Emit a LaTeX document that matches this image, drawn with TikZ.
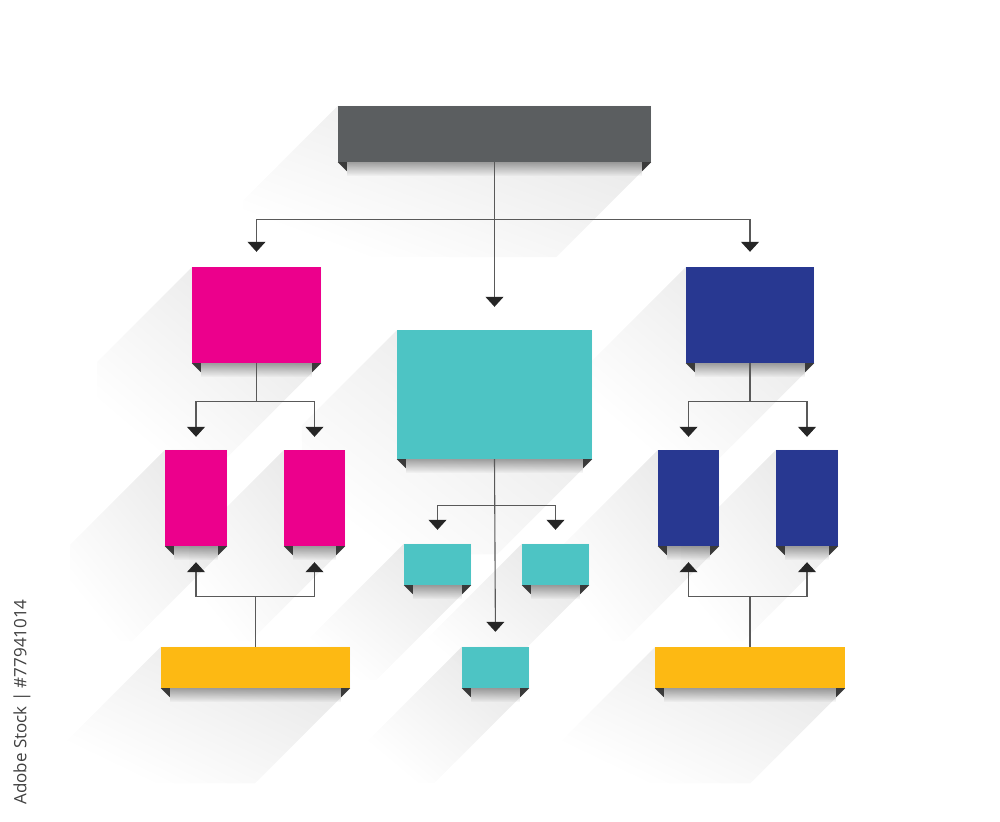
\documentclass[tikz,border=0pt]{standalone}
\usepackage{fontspec}
\newfontfamily\stockfont{Open Sans}
\usetikzlibrary{calc,arrows.meta,backgrounds,fadings}
\definecolor{FGray}{HTML}{5B5E60}
\definecolor{FPink}{HTML}{EC008C}
\definecolor{FTeal}{HTML}{4DC4C4}
\definecolor{FNavy}{HTML}{283891}
\definecolor{FYellow}{HTML}{FDB913}
\definecolor{FFold}{HTML}{3A3A3A}
\tikzfading[name=longshade, left color=transparent!100, right color=transparent!0]
\tikzset{
    box/.style = {rectangle, inner sep=0pt},
    plain/.style = {draw=black!65, line width=1.1pt},
    link/.style = {plain, -{Triangle[width=18pt,length=10pt,color=black!85]}, shorten >=15pt},
}
% long shadow, folds and soft shade of one box
\newcommand{\boxdeco}[1]{%
    \begin{pgfonlayer}{background}
        \fill[black, opacity=.09, path fading=longshade, fading angle=45]
            (#1.north west) -- (#1.north east) -- (#1.south east)
            -- ++(-95,95) -- ($(#1.south west)+(-95,95)$)
            -- ($(#1.north west)+(-95,95)$) -- cycle;
    \end{pgfonlayer}
    \fill[black, opacity=.35, path fading=south]
        ($(#1.south west)+(9,0)$) rectangle ($(#1.south east)+(-9,14)$);
    \fill[FFold] (#1.south west) -- ++(9,0) -- ++(0,9) -- cycle;
    \fill[FFold] (#1.south east) -- ++(-9,0) -- ++(0,9) -- cycle;
}

\begin{document}
\begin{tikzpicture}[x=1pt,y=-1pt]
    \useasboundingbox (0,0) rectangle (1000,821);
    \begin{pgfonlayer}{background}
        \fill[white] (0,0) rectangle (1000,821);
    \end{pgfonlayer}

    % boxes
    \node[box, fill=FGray, minimum width=313pt, minimum height=56pt] (top) at (494.5,134) {};
    \node[box, fill=FPink, minimum width=129pt, minimum height=96pt] (pinkA) at (256.5,315) {};
    \node[box, fill=FTeal, minimum width=195pt, minimum height=129pt] (teal) at (494.5,394.5) {};
    \node[box, fill=FNavy, minimum width=128pt, minimum height=96pt] (navyA) at (750,315) {};
    \node[box, fill=FPink, minimum width=62pt, minimum height=96pt] (pink1) at (196,498) {};
    \node[box, fill=FPink, minimum width=61pt, minimum height=96pt] (pink2) at (314.5,498) {};
    \node[box, fill=FNavy, minimum width=61pt, minimum height=96pt] (navy1) at (688.5,498) {};
    \node[box, fill=FNavy, minimum width=62pt, minimum height=96pt] (navy2) at (807,498) {};
    \node[box, fill=FTeal, minimum width=67pt, minimum height=41pt] (teal1) at (437.5,564.5) {};
    \node[box, fill=FTeal, minimum width=67pt, minimum height=41pt] (teal2) at (555.5,564.5) {};
    \node[box, fill=FTeal, minimum width=67pt, minimum height=41pt] (teal3) at (495.5,667.5) {};
    \node[box, fill=FYellow, minimum width=189pt, minimum height=41pt] (yel1) at (255.5,667.5) {};
    \node[box, fill=FYellow, minimum width=190pt, minimum height=41pt] (yel2) at (750,667.5) {};

    \foreach \b in {top,pinkA,teal,navyA,pink1,pink2,navy1,navy2,teal1,teal2,teal3,yel1,yel2}
        {\boxdeco{\b}}

    % junctions
    \path (top.south) ++(0,57) coordinate (jt);
    \path (pinkA.south) ++(0,38) coordinate (jp);
    \path (navyA.south) ++(0,38) coordinate (jn);
    \path (teal.south) ++(0,46) coordinate (jc);
    \path (yel1.north) ++(0,-50) coordinate (jy1);
    \path (yel2.north) ++(0,-50) coordinate (jy2);

    % connectors
    \draw[link, shorten >=23pt] (top.south) -- (teal.north);
    \draw[link] (jt) -| (pinkA.north);
    \draw[link] (jt) -| (navyA.north);
    \draw[plain] (pinkA.south) -- (jp);
    \draw[link, shorten >=13pt] (jp) -| (pink1.north);
    \draw[link, shorten >=13pt] (jp) -| (pink2.north);
    \draw[plain] (navyA.south) -- (jn);
    \draw[link, shorten >=13pt] (jn) -| (navy1.north);
    \draw[link, shorten >=13pt] (jn) -| (navy2.north);
    \draw[link] (teal.south) -- (teal3.north);
    \draw[link, shorten >=14pt] (jc) -| (teal1.north);
    \draw[link, shorten >=14pt] (jc) -| (teal2.north);
    \draw[plain] (yel1.north) -- (jy1);
    \draw[link, shorten >=16pt] (jy1) -| (pink1.south);
    \draw[link, shorten >=16pt] (jy1) -| (pink2.south);
    \draw[plain] (yel2.north) -- (jy2);
    \draw[link, shorten >=16pt] (jy2) -| (navy1.south);
    \draw[link, shorten >=16pt] (jy2) -| (navy2.south);

    \node[rotate=90, text=black!75, font=\stockfont\fontsize{17}{20}\selectfont] (stamp) at (22,702) {Adobe Stock | \#77941014};
\end{tikzpicture}
\end{document}
